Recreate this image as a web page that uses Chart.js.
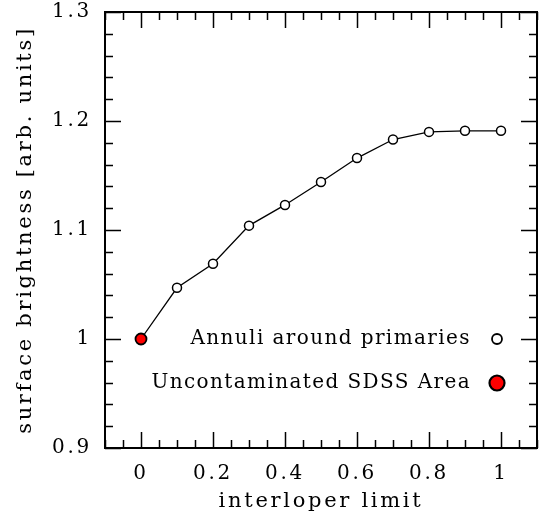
<!DOCTYPE html>
<html>
<head>
<meta charset="utf-8">
<script src="https://cdn.jsdelivr.net/npm/chart.js@4"></script>
<style>
  html, body { margin: 0; padding: 0; background: #fff; }
</style>
</head>
<body>
<canvas id="sbchart" width="547" height="518"></canvas>
<script>
// interloper limit values
const interloperLimit = [0, 0.1, 0.2, 0.3, 0.4, 0.5, 0.6, 0.7, 0.8, 0.9, 1.0];
// annuli around primaries
const annuliBrightness = [1.000, 1.047, 1.069, 1.104, 1.123, 1.144, 1.166, 1.183, 1.190, 1.191, 1.191];
// uncontaminated SDSS area
const sdssLimit = [0];
const sdssBrightness = [1.000];

const xTicks = [0, 0.2, 0.4, 0.6, 0.8, 1];
const yTicks = [0.9, 1.0, 1.1, 1.2, 1.3];
const xMinorStep = 0.05;
const yMinorStep = 0.02;

const legendItems = ['Annuli around primaries', 'Uncontaminated SDSS Area'];

const FONT = 'DejaVu Serif';
const SPACING = '2.7px';

// wide letter spacing like the original plot font
const spacing = {
    id: 'spacing',
    beforeLayout(chart) { chart.ctx.letterSpacing = SPACING; },
    beforeDraw(chart) { chart.ctx.letterSpacing = SPACING; }
};

// frame with inward ticks on all four sides
const frameTicks = {
    id: 'frameTicks',
    afterDatasetsDraw(chart) {
        const { ctx, chartArea: a, scales: { x, y } } = chart;
        ctx.save();
        ctx.strokeStyle = '#000';
        ctx.lineWidth = 1.5;
        ctx.beginPath();
        for (let v = x.min; v <= x.max + 1e-9; v += xMinorStep) {
            const major = xTicks.some(t => Math.abs(t - v) < 1e-6);
            const len = major ? 16 : 8;
            const px = Math.round(x.getPixelForValue(v)) + 0.5;
            ctx.moveTo(px, a.bottom); ctx.lineTo(px, a.bottom - len);
            ctx.moveTo(px, a.top); ctx.lineTo(px, a.top + len);
        }
        for (let v = y.min; v <= y.max + 1e-9; v += yMinorStep) {
            const major = yTicks.some(t => Math.abs(t - v) < 1e-6);
            const len = major ? 16 : 8;
            const py = Math.round(y.getPixelForValue(v)) + 0.5;
            ctx.moveTo(a.left, py); ctx.lineTo(a.left + len, py);
            ctx.moveTo(a.right, py); ctx.lineTo(a.right - len, py);
        }
        ctx.stroke();
        ctx.lineWidth = 2;
        ctx.strokeRect(a.left, a.top, a.right - a.left, a.bottom - a.top);
        ctx.restore();
    }
};

// legend inside the plot, text right aligned with marker on the right
const innerLegend = {
    id: 'innerLegend',
    afterDraw(chart) {
        const { ctx, chartArea: a } = chart;
        const mx = a.right - 40;
        const rows = [a.top + 327, a.top + 371];
        ctx.save();
        ctx.letterSpacing = '1.4px';
        ctx.font = '20px "' + FONT + '"';
        ctx.textAlign = 'right';
        ctx.textBaseline = 'middle';
        ctx.fillStyle = '#000';
        legendItems.forEach((txt, i) => {
            ctx.fillText(txt, mx - 26, rows[i]);
        });
        ctx.lineWidth = 1.8;
        ctx.strokeStyle = '#000';
        ctx.beginPath();
        ctx.arc(mx, rows[0], 5, 0, Math.PI * 2);
        ctx.fillStyle = '#fff';
        ctx.fill();
        ctx.stroke();
        ctx.lineWidth = 2.2;
        ctx.beginPath();
        ctx.arc(mx, rows[1], 7.5, 0, Math.PI * 2);
        ctx.fillStyle = '#ff0000';
        ctx.fill();
        ctx.stroke();
        ctx.restore();
    }
};

new Chart('sbchart', {
    type: 'scatter',
    data: {
        datasets: [{
            label: legendItems[1],
            data: sdssLimit.map((v, i) => ({ x: v, y: sdssBrightness[i] })),
            pointRadius: 5.5,
            pointBackgroundColor: '#ff0000',
            pointBorderColor: '#000',
            pointBorderWidth: 1.8,
            order: 0
        }, {
            label: legendItems[0],
            data: interloperLimit.map((v, i) => ({ x: v, y: annuliBrightness[i] })),
            showLine: true,
            borderColor: '#000',
            borderWidth: 1.3,
            pointRadius: 4.5,
            pointBackgroundColor: '#fff',
            pointBorderColor: '#000',
            pointBorderWidth: 1.5,
            order: 1
        }]
    },
    options: {
        responsive: false,
        animation: false,
        layout: { padding: { top: 0, right: 10, left: 0, bottom: 0 } },
        plugins: { legend: { display: false }, tooltip: { enabled: false } },
        scales: {
            x: {
                type: 'linear',
                min: -0.1,
                max: 1.1,
                afterBuildTicks: s => { s.ticks = xTicks.map(v => ({ value: v })); },
                afterFit: s => { s.height = 70; s.paddingLeft = 0; s.paddingRight = 0; },
                grid: { display: false, drawTicks: false },
                border: { display: false },
                ticks: {
                    color: '#000',
                    font: { family: FONT, size: 20, lineHeight: 1.2 },
                    padding: 14,
                    maxRotation: 0,
                    callback: v => String(+v.toFixed(1))
                },
                title: {
                    display: true,
                    text: 'interloper limit',
                    color: '#000',
                    font: { family: FONT, size: 21, lineHeight: 1.1 },
                    padding: { top: 0, bottom: 4.5 }
                }
            },
            y: {
                type: 'linear',
                min: 0.9,
                max: 1.3,
                afterBuildTicks: s => { s.ticks = yTicks.map(v => ({ value: v })); },
                afterFit: s => { s.width = 105; s.paddingTop = 12; s.paddingBottom = 12; },
                grid: { display: false, drawTicks: false },
                border: { display: false },
                ticks: {
                    color: '#000',
                    font: { family: FONT, size: 20, lineHeight: 1.2 },
                    padding: 13,
                    callback: v => String(+v.toFixed(1))
                },
                title: {
                    display: true,
                    text: 'surface brightness [arb. units]',
                    color: '#000',
                    font: { family: FONT, size: 21, lineHeight: 1.1 },
                    padding: { top: 13.5, bottom: 0 }
                }
            }
        }
    },
    plugins: [spacing, frameTicks, innerLegend]
});
</script>
</body>
</html>
